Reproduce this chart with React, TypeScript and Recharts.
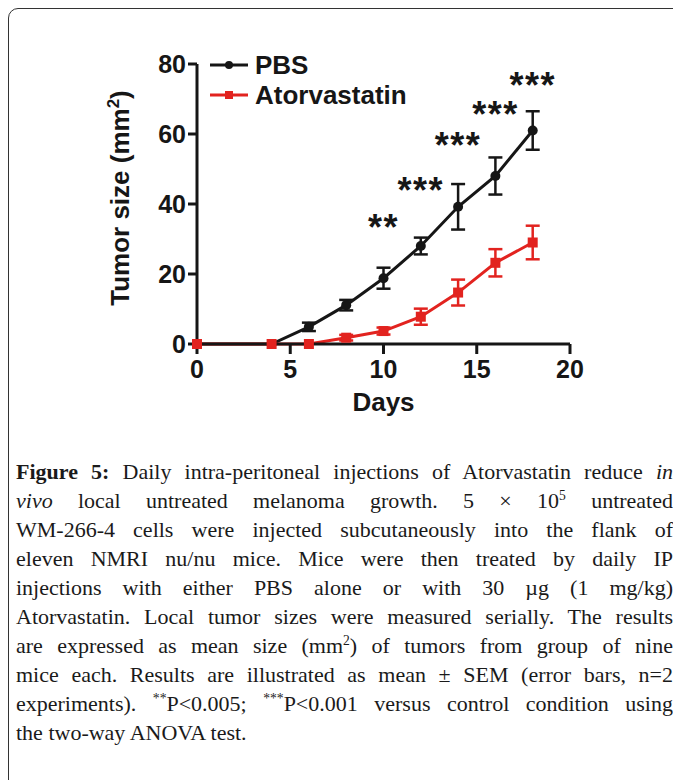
import React from 'react';
import { LineChart, Line, XAxis, YAxis, ErrorBar, ReferenceDot, Legend } from 'recharts';

const days = [0, 4, 6, 8, 10, 12, 14, 16, 18];
const pbsMean = [0, 0, 4.9, 11.1, 18.8, 28, 39.2, 48, 61];
const pbsSem = [0, 0, 1.2, 1.5, 3, 2.4, 6.5, 5.3, 5.5];
const atorMean = [0, 0, 0, 1.8, 3.7, 7.8, 14.7, 23.2, 29];
const atorSem = [0, 0, 0, 0.8, 1, 2.3, 3.7, 3.9, 4.8];

// significance marks above the PBS curve
const sigDays = [10, 12, 14, 16, 18];
const sigMarks = ['**', '***', '***', '***', '***'];
const sigLevel = [34, 44.6, 57.4, 66.4, 74.7];

const xTicks = [0, 5, 10, 15, 20];
const yTicks = [0, 20, 40, 60, 80];
const legendOrder = ['pbs', 'ator'];

const RED = '#e2231f';
const INK = '#161616';
const SANS = '"Liberation Sans", Arial, sans-serif';

const data = days.map((d, i) => ({
  day: d,
  pbs: pbsMean[i],
  pbsErr: pbsSem[i],
  ator: atorMean[i],
  atorErr: atorSem[i],
}));

const Square = (props: any) => {
  const { cx, cy, index } = props;
  return <rect key={`sq-${index}`} x={cx - 5} y={cy - 5} width={10} height={10} fill={RED} />;
};

const StarLabel = (text: string) => (props: any) => {
  const vb = props.viewBox || {};
  const cx = vb.x + (vb.width || 0) / 2;
  const cy = vb.y + (vb.height || 0) / 2;
  return (
    <text x={cx} y={cy + 15} textAnchor="middle" fontFamily={SANS} fontWeight="bold" fontSize={36} letterSpacing={1.5} fill={INK}>
      {text}
    </text>
  );
};

const renderLegend = (props: any) => {
  const items = [...(props.payload || [])].sort(
    (a: any, b: any) => legendOrder.indexOf(a.dataKey) - legendOrder.indexOf(b.dataKey)
  );
  return (
    <div style={{ fontFamily: SANS, fontWeight: 'bold', fontSize: 26, color: INK, lineHeight: '30px' }}>
      {items.map((it: any) => (
        <div key={it.dataKey} style={{ display: 'flex', alignItems: 'center', height: 30 }}>
          <svg width={38} height={12} style={{ marginRight: 7 }}>
            <line x1={0} y1={6} x2={38} y2={6} stroke={it.color} strokeWidth={3} />
            {it.dataKey === 'pbs' ? <circle cx={19} cy={6} r={4} fill={it.color} /> : <rect x={15} y={2} width={8} height={8} fill={it.color} />}
          </svg>
          <span>{it.value}</span>
        </div>
      ))}
    </div>
  );
};

const YTitle = (props: any) => {
  const vb = props.viewBox;
  const x = 121;
  const y = vb.y + vb.height / 2 - 6;
  return (
    <text x={x} y={y} transform={`rotate(-90 ${x} ${y})`} textAnchor="middle" fontFamily={SANS} fontWeight="bold" fontSize={26} fill={INK}>
      Tumor size (mm<tspan dy={-10} fontSize={17}>2</tspan><tspan dy={10}>)</tspan>
    </text>
  );
};

const XTitle = (props: any) => {
  const vb = props.viewBox;
  return (
    <text x={vb.x + vb.width / 2} y={vb.y + 67} textAnchor="middle" fontFamily={SANS} fontWeight="bold" fontSize={26} fill={INK}>
      Days
    </text>
  );
};

const tickStyle = { fontSize: 25, fontWeight: 'bold', fill: INK, fontFamily: SANS };

const supStyle: React.CSSProperties = { fontSize: '0.62em', verticalAlign: 'baseline', position: 'relative', top: '-0.6em', lineHeight: 0 };

const captionLines: React.ReactNode[] = [
  <><b>Figure 5:</b> Daily intra-peritoneal injections of Atorvastatin reduce <i>in</i></>,
  <><i>vivo</i> local untreated melanoma growth. 5 × 10<span style={supStyle}>5</span> untreated</>,
  <>WM-266-4 cells were injected subcutaneously into the flank of</>,
  <>eleven NMRI nu/nu mice. Mice were then treated by daily IP</>,
  <>injections with either PBS alone or with 30 µg (1 mg/kg)</>,
  <>Atorvastatin. Local tumor sizes were measured serially. The results</>,
  <>are expressed as mean size (mm<span style={supStyle}>2</span>) of tumors from group of nine</>,
  <>mice each. Results are illustrated as mean ± SEM (error bars, n=2</>,
  <>experiments). <span style={supStyle}>**</span>P&lt;0.005; <span style={supStyle}>***</span>P&lt;0.001 versus control condition using</>,
  <>the two-way ANOVA test.</>,
];

export default function App() {
  return (
    <div style={{ position: 'fixed', left: 8, top: 8, width: 665, height: 772, overflow: 'hidden', background: '#fff' }}>
      <div style={{ position: 'absolute', left: 0, top: 0, width: 720, height: 820, border: '1.5px solid #333', borderRadius: 10, boxSizing: 'border-box' }} />
      <div style={{ position: 'absolute', left: 0, top: 0 }}>
        <LineChart width={640} height={430} data={data} margin={{ top: 56, right: 78, bottom: 34, left: 10 }}>
          <XAxis
            dataKey="day"
            type="number"
            domain={[0, 20]}
            ticks={xTicks}
            height={60}
            tickSize={10}
            tickMargin={6}
            axisLine={{ stroke: INK, strokeWidth: 3 }}
            tickLine={{ stroke: INK, strokeWidth: 3 }}
            tick={tickStyle}
            label={{ content: XTitle }}
          />
          <YAxis
            type="number"
            domain={[0, 80]}
            ticks={yTicks}
            width={179}
            tickSize={9}
            tickMargin={2}
            axisLine={{ stroke: INK, strokeWidth: 3 }}
            tickLine={{ stroke: INK, strokeWidth: 3 }}
            tick={tickStyle}
            label={{ content: YTitle }}
          />
          <Legend
            layout="vertical"
            align="center"
            verticalAlign="middle"
            content={renderLegend}
            wrapperStyle={{ top: 42, left: 202, width: 'auto', height: 'auto' }}
          />
          <Line
            dataKey="pbs"
            name="PBS"
            stroke={INK}
            strokeWidth={3}
            dot={{ r: 5, fill: INK, stroke: INK, strokeWidth: 0 }}
            isAnimationActive={false}
          >
            <ErrorBar dataKey="pbsErr" direction="y" width={7} strokeWidth={2.5} stroke={INK} />
          </Line>
          <Line
            dataKey="ator"
            name="Atorvastatin"
            stroke={RED}
            strokeWidth={3}
            dot={Square}
            isAnimationActive={false}
          >
            <ErrorBar dataKey="atorErr" direction="y" width={7} strokeWidth={2.5} stroke={RED} />
          </Line>
          {sigDays.map((d, i) => (
            <ReferenceDot key={d} x={d} y={sigLevel[i]} r={1} fill="none" stroke="none" label={{ content: StarLabel(sigMarks[i]) }} />
          ))}
        </LineChart>
      </div>
      <div style={{ position: 'absolute', left: 8, top: 449, width: 657, fontFamily: '"Liberation Serif", "Times New Roman", serif', fontSize: 22, color: '#1a1a1a' }}>
        {captionLines.map((ln, i) => (
          <div
            key={i}
            style={{
              height: 29,
              lineHeight: '29px',
              whiteSpace: 'nowrap',
              textAlign: 'justify',
              textAlignLast: i === captionLines.length - 1 ? 'left' : 'justify',
            }}
          >
            {ln}
          </div>
        ))}
      </div>
    </div>
  );
}
